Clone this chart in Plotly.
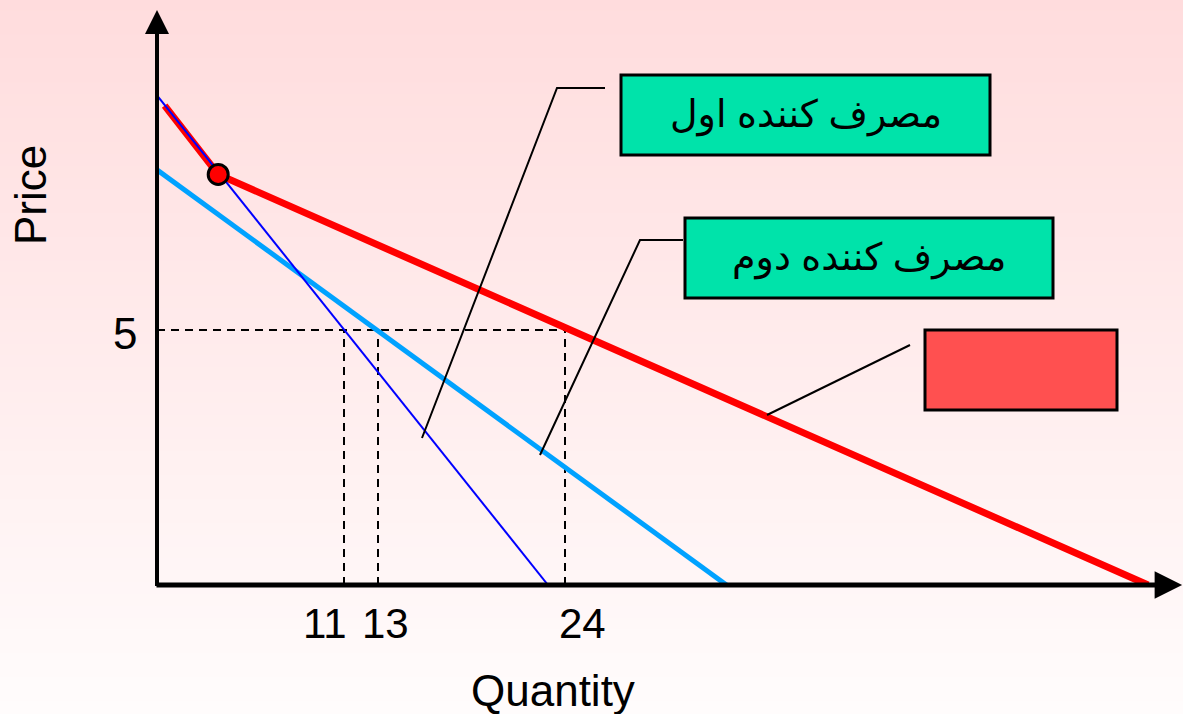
import plotly.graph_objects as go

# ---- data ----
consumer1_q = [0, 23]
consumer1_p = [9.6, 0]
consumer2_q = [0, 33.5]
consumer2_p = [8.14, 0]
market_q = [0.45, 3.6, 58.3]
market_p = [9.4, 8.05, 0]
kink_q = [3.6]
kink_p = [8.05]
price_level = 5
qty_marks = [11, 13, 24]
x_tick_text = ["11", "13", "24"]
y_tick_vals = [5]
y_tick_text = ["5"]
label1 = "مصرف کننده اول"
label2 = "مصرف کننده دوم"

W, H = 1183, 714
ML, MR, MT, MB = 157, 0, 10, 129
XMAX = (W - ML - MR) / 17.0
YMAX = (H - MT - MB) / 51.0
FONT = "Arial, 'Liberation Sans', 'DejaVu Sans', sans-serif"

fig = go.Figure()

# dashed guides
fig.add_trace(go.Scatter(x=[0, qty_marks[-1]], y=[price_level, price_level], mode="lines",
                         line=dict(color="black", width=2, dash="8px,6px"), hoverinfo="skip"))
for q in qty_marks:
    fig.add_trace(go.Scatter(x=[q, q], y=[0, price_level], mode="lines",
                             line=dict(color="black", width=2, dash="8px,6px"), hoverinfo="skip"))

fig.add_trace(go.Scatter(x=consumer2_q, y=consumer2_p, mode="lines",
                         line=dict(color="#00A2FF", width=5)))
fig.add_trace(go.Scatter(x=market_q, y=market_p, mode="lines",
                         line=dict(color="#FF0000", width=7)))
fig.add_trace(go.Scatter(x=consumer1_q, y=consumer1_p, mode="lines",
                         line=dict(color="#0000FF", width=2)))
fig.add_trace(go.Scatter(x=kink_q, y=kink_p, mode="markers",
                         marker=dict(size=20, color="#FF0000", line=dict(color="black", width=3))))

# gradient background bands (paper coords)
shapes = []
n = 60
top_c = (255, 220, 221)
bot_c = (255, 252, 252)
ph = H - MT - MB
pw = W - ML - MR
for i in range(n):
    py0 = H * i / n
    py1 = H * (i + 1) / n
    t = (i + 0.5) / n
    c = tuple(round(top_c[k] + (bot_c[k] - top_c[k]) * t) for k in range(3))
    shapes.append(dict(type="rect", xref="paper", yref="paper", layer="below",
                       x0=-1, x1=2, y0=(H - MB - py1) / ph, y1=(H - MB - py0) / ph + 0.002,
                       fillcolor="rgb(%d,%d,%d)" % c, line=dict(width=0)))

def px(x):
    return (x - ML) / 17.0

def py(y):
    return (H - MB - y) / 51.0

# callout boxes
shapes.append(dict(type="rect", xref="x", yref="y", x0=px(621), x1=px(990), y0=py(155), y1=py(75),
                   fillcolor="#00E3AA", line=dict(color="black", width=3)))
shapes.append(dict(type="rect", xref="x", yref="y", x0=px(685), x1=px(1053), y0=py(298), y1=py(218),
                   fillcolor="#00E3AA", line=dict(color="black", width=3)))
shapes.append(dict(type="rect", xref="x", yref="y", x0=px(925), x1=px(1117), y0=py(410), y1=py(330),
                   fillcolor="#FF5050", line=dict(color="black", width=3)))
# leader lines
def path(pts):
    return "M " + " L ".join("%f,%f" % (px(a), py(b)) for a, b in pts)
for pts in ([(605, 88), (557, 88), (422, 438)],
            [(683, 240), (640, 240), (540, 455)],
            [(910, 345), (767, 415)]):
    shapes.append(dict(type="path", xref="x", yref="y", path=path(pts),
                       line=dict(color="black", width=2)))

annotations = [
    # axes with arrowheads
    dict(x=0, y=YMAX, ax=0, ay=-0.05, xref="x", yref="y", axref="x", ayref="y",
         showarrow=True, arrowhead=2, arrowsize=1.2, arrowwidth=4, arrowcolor="black", text=""),
    dict(x=XMAX - 0.05, y=0, ax=-0.12, ay=0, xref="x", yref="y", axref="x", ayref="y",
         showarrow=True, arrowhead=2, arrowsize=1.1, arrowwidth=5, arrowcolor="black", text=""),
    dict(x=(px(621) + px(990)) / 2, y=(py(75) + py(155)) / 2, xref="x", yref="y", showarrow=False,
         text=label1, font=dict(family=FONT, size=38, color="black")),
    dict(x=(px(685) + px(1053)) / 2, y=(py(218) + py(298)) / 2, xref="x", yref="y", showarrow=False,
         text=label2, font=dict(family=FONT, size=38, color="black")),
    dict(x=(553 - ML) / pw, y=(H - MB - 690) / ph, xref="paper", yref="paper",
         xanchor="center", yanchor="middle",
         showarrow=False, text="Quantity", font=dict(family=FONT, size=44, color="black")),
    dict(x=(30 - ML) / pw, y=(H - MB - 195) / ph, xref="paper", yref="paper",
         xanchor="center", yanchor="middle",
         showarrow=False, text="Price", textangle=-90, font=dict(family=FONT, size=44, color="black")),
]
# tick labels
x_shifts = [-19, 7, 17]
for q, t, s in zip(qty_marks, x_tick_text, x_shifts):
    annotations.append(dict(x=q, y=0, xref="x", yref="y", showarrow=False, text=t,
                            xanchor="center", yanchor="middle", xshift=s, yshift=-38,
                            font=dict(family=FONT, size=42, color="black")))
for v, t in zip(y_tick_vals, y_tick_text):
    annotations.append(dict(x=0, y=v, xref="x", yref="y", showarrow=False, text=t,
                            xanchor="center", yanchor="middle", xshift=-32, yshift=-3,
                            font=dict(family=FONT, size=44, color="black")))

fig.update_layout(
    width=W, height=H, margin=dict(l=ML, r=MR, t=MT, b=MB),
    paper_bgcolor="#FFF8F8", plot_bgcolor="rgba(0,0,0,0)",
    showlegend=False, shapes=shapes, annotations=annotations,
    xaxis=dict(range=[0, XMAX], showgrid=False, zeroline=False, showline=False,
               showticklabels=False, ticks="", fixedrange=True),
    yaxis=dict(range=[0, YMAX], showgrid=False, zeroline=False, showline=False,
               showticklabels=False, ticks="", fixedrange=True),
)

fig.write_html("out.html", config={"displayModeBar": False},
               post_script="document.body.style.margin='0';document.body.style.background='#FFF8F8';")
